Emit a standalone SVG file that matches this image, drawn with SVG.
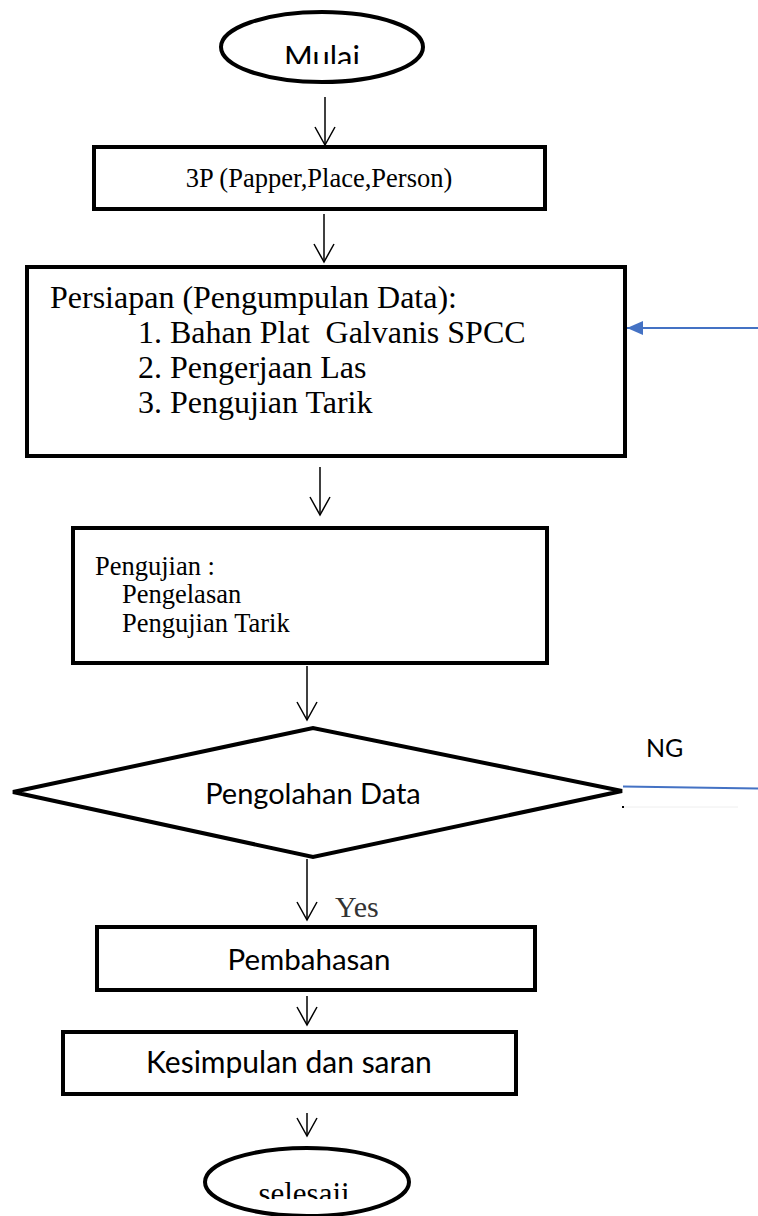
<svg xmlns="http://www.w3.org/2000/svg" width="758" height="1216" viewBox="0 0 758 1216">
<style>
.shape{fill:#fff;stroke:#000;stroke-width:4}
.conn{fill:none;stroke:#000;stroke-width:1.5}
.blue{fill:none;stroke:#4472C4;stroke-width:2}
.serif{font-family:"Liberation Serif","Times New Roman",serif;fill:#000}
.sans{font-family:Lato,"Open Sans",sans-serif;fill:#000}
</style>
<defs>
<marker id="open" markerUnits="userSpaceOnUse" viewBox="-20 -12 22 24" refX="0" refY="0" markerWidth="22" markerHeight="24" orient="auto">
<path d="M-18,-10 L0,0 L-18,10" fill="none" stroke="#000" stroke-width="1.5"/>
</marker>
<marker id="bluehead" markerUnits="userSpaceOnUse" viewBox="-17 -8 18 16" refX="0" refY="0" markerWidth="18" markerHeight="16" orient="auto">
<path d="M-16,-7 L0,0 L-16,7 Z" fill="#4472C4"/>
</marker>
<clipPath id="clipMulai"><rect x="0" y="0" width="758" height="64"/></clipPath>
<clipPath id="clipSelesai"><rect x="0" y="0" width="758" height="1199"/></clipPath>
</defs>

<g id="connectors">
<line class="conn" x1="325" y1="97" x2="325" y2="145" marker-end="url(#open)"/>
<line class="conn" x1="324" y1="214" x2="324" y2="262" marker-end="url(#open)"/>
<line class="conn" x1="320" y1="467" x2="320" y2="515" marker-end="url(#open)"/>
<line class="conn" x1="307" y1="666" x2="307" y2="720" marker-end="url(#open)"/>
<line class="conn" x1="307" y1="859" x2="307" y2="920" marker-end="url(#open)"/>
<line class="conn" x1="307" y1="996" x2="307" y2="1025" marker-end="url(#open)"/>
<line class="conn" x1="307" y1="1113" x2="307" y2="1136" marker-end="url(#open)"/>
<line class="blue" x1="758" y1="328" x2="627" y2="328" marker-end="url(#bluehead)"/>
<line class="blue" x1="623" y1="786.5" x2="758" y2="788.5"/>
<line x1="623" y1="807" x2="738" y2="807" stroke="#eeeeee" stroke-width="1"/>
<rect x="622" y="806" width="2" height="2" fill="#000"/>
</g>

<g id="node-mulai">
<ellipse class="shape" cx="322" cy="47" rx="101" ry="35"/>
<text class="sans" x="322" y="68" font-size="31" text-anchor="middle" clip-path="url(#clipMulai)">Mulai</text>
</g>

<g id="node-3p">
<rect class="shape" x="94" y="147" width="451" height="62"/>
<text class="serif" x="319" y="187" font-size="26.5" text-anchor="middle">3P (Papper,Place,Person)</text>
</g>

<g id="node-persiapan">
<rect class="shape" x="27" y="267" width="598" height="189"/>
<text class="serif" font-size="32">
<tspan x="50" y="308">Persiapan (Pengumpulan Data):</tspan>
<tspan x="138" y="343">1. Bahan Plat &#160;Galvanis SPCC</tspan>
<tspan x="138" y="378">2. Pengerjaan Las</tspan>
<tspan x="138" y="413">3. Pengujian Tarik</tspan>
</text>
</g>

<g id="node-pengujian">
<rect class="shape" x="73" y="528" width="474" height="135"/>
<text class="serif" font-size="26.5">
<tspan x="95" y="575">Pengujian :</tspan>
<tspan x="122" y="603">Pengelasan</tspan>
<tspan x="122" y="632">Pengujian Tarik</tspan>
</text>
</g>

<g id="node-pengolahan">
<polygon class="shape" points="13,792 313,728 622,791 313,857"/>
<text class="sans" x="313" y="804" font-size="29" text-anchor="middle">Pengolahan Data</text>
<text class="sans" x="646" y="757" font-size="25">NG</text>
</g>

<text class="serif" x="335" y="917" font-size="30" style="fill:#333">Yes</text>

<g id="node-pembahasan">
<rect class="shape" x="97" y="927" width="438" height="63"/>
<text class="sans" x="309" y="970" font-size="29.5" text-anchor="middle">Pembahasan</text>
</g>

<g id="node-kesimpulan">
<rect class="shape" x="63" y="1032" width="453" height="62"/>
<text class="sans" x="289" y="1073" font-size="30" text-anchor="middle">Kesimpulan dan saran</text>
</g>

<g id="node-selesai">
<ellipse class="shape" cx="307" cy="1182" rx="102" ry="34"/>
<text class="serif" x="304" y="1204" font-size="31" text-anchor="middle" clip-path="url(#clipSelesai)">selesaii</text>
</g>
</svg>
